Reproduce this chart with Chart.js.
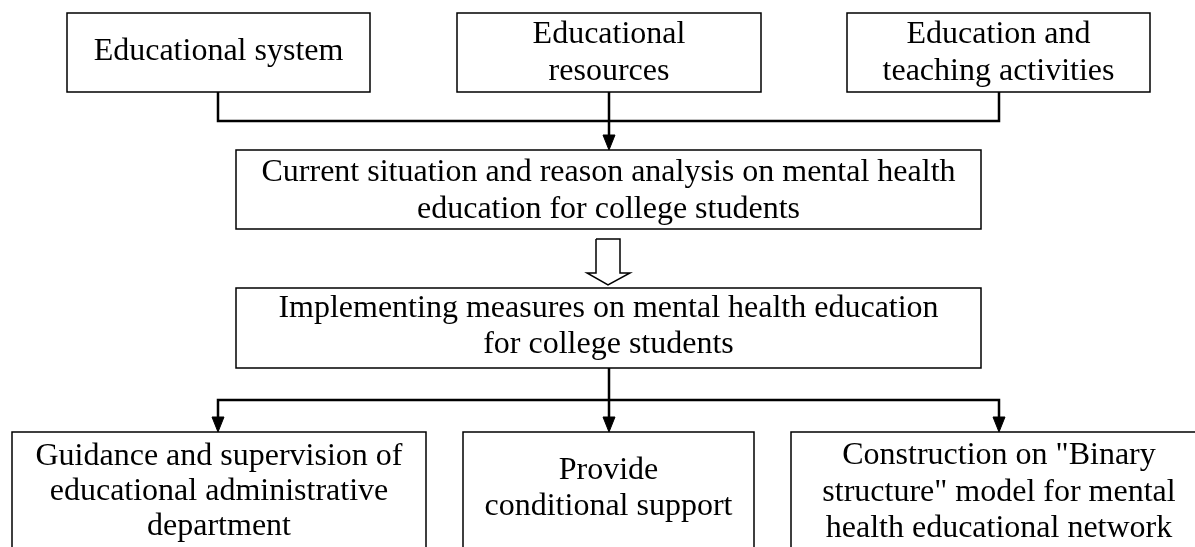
<!DOCTYPE html>
<html>
<head>
<meta charset="utf-8">
<script src="https://cdn.jsdelivr.net/npm/chart.js@4/dist/chart.umd.min.js"></script>
<style>
  html, body { margin: 0; padding: 0; background: #fff; }
  canvas { display: block; }
</style>
</head>
<body>
<canvas id="flowChart" width="1195" height="547"></canvas>
<script>
// node texts, one array of lines per box
const nodeLabels = [
    ["Educational system"],
    ["Educational", "resources"],
    ["Education and", "teaching activities"],
    ["Current situation and reason analysis on mental health", "education for college students"],
    ["Implementing measures on mental health education", "for college students"],
    ["Guidance and supervision of", "educational administrative", "department"],
    ["Provide", "conditional support"],
    ["Construction on \"Binary", "structure\" model for mental", "health educational network"]
];

// layout (in axis units = px of the picture): box corners, first baseline, line gap
const nodeBoxes = [
    [67, 13, 370, 92],
    [457, 13, 761, 92],
    [847, 13, 1150, 92],
    [236, 150, 981, 229],
    [236, 288, 981, 368],
    [12, 432, 426, 580],
    [463, 432, 754, 580],
    [791, 432, 1207, 580]
];
const nodeBaseline = [60, 43, 43, 181, 317, 465, 479, 464];
const nodeLineGap = [37, 37, 37, 37, 36, 35, 36, 36.5];

// connector polylines
const connectors = [
    [[218, 92], [218, 121], [999, 121], [999, 92]],
    [[609, 92], [609, 138]],
    [[609, 368], [609, 420]],
    [[218, 420], [218, 400], [999, 400], [999, 420]]
];
// arrow tips (solid heads)
const arrowTips = [[609, 150], [218, 432], [609, 432], [999, 432]];
// hollow block arrow between the two middle boxes
const blockArrow = [[596, 239], [620, 239], [620, 273], [630, 273], [608, 285], [587, 273], [596, 273], [596, 239]];

const toPts = arr => arr.map(p => ({ x: p[0], y: p[1] }));
const datasets = [];

nodeBoxes.forEach(b => {
    datasets.push({
        data: toPts([[b[0], b[1]], [b[2], b[1]], [b[2], b[3]], [b[0], b[3]], [b[0], b[1]]]),
        borderColor: "#000", borderWidth: 1.5, borderCapStyle: "square", borderJoinStyle: "miter",
        pointRadius: 0, fill: false, tension: 0
    });
});
connectors.forEach(c => {
    datasets.push({
        data: toPts(c),
        borderColor: "#000", borderWidth: 2.5, borderJoinStyle: "miter",
        pointRadius: 0, fill: false, tension: 0
    });
});
arrowTips.forEach(t => {
    datasets.push({
        data: toPts([[t[0] - 6, t[1] - 15], [t[0] + 6, t[1] - 15], [t[0], t[1]], [t[0] - 6, t[1] - 15]]),
        borderColor: "#000", borderWidth: 1, backgroundColor: "#000",
        pointRadius: 0, fill: "shape", tension: 0
    });
});
datasets.push({
    data: toPts(blockArrow),
    borderColor: "#000", borderWidth: 1.5, borderJoinStyle: "miter",
    pointRadius: 0, fill: false, tension: 0
});

const nodeTextPlugin = {
    id: "nodeText",
    afterDatasetsDraw(chart) {
        const { ctx, scales: { x, y } } = chart;
        ctx.save();
        ctx.font = '32px "Liberation Serif", "Times New Roman", serif';
        ctx.fillStyle = "#000";
        ctx.textAlign = "center";
        ctx.textBaseline = "alphabetic";
        nodeLabels.forEach((lines, i) => {
            const b = nodeBoxes[i];
            const cx = x.getPixelForValue((b[0] + b[2]) / 2);
            lines.forEach((t, j) => {
                ctx.fillText(t, cx, y.getPixelForValue(nodeBaseline[i] + j * nodeLineGap[i]));
            });
        });
        ctx.restore();
    }
};

new Chart(document.getElementById("flowChart"), {
    type: "line",
    data: { datasets: datasets },
    options: {
        responsive: false,
        animation: false,
        layout: { padding: 0 },
        plugins: { legend: { display: false }, tooltip: { enabled: false } },
        scales: {
            x: { type: "linear", min: 0, max: 1195, display: false },
            y: { type: "linear", min: 0, max: 547, reverse: true, display: false }
        }
    },
    plugins: [nodeTextPlugin]
});
</script>
</body>
</html>
